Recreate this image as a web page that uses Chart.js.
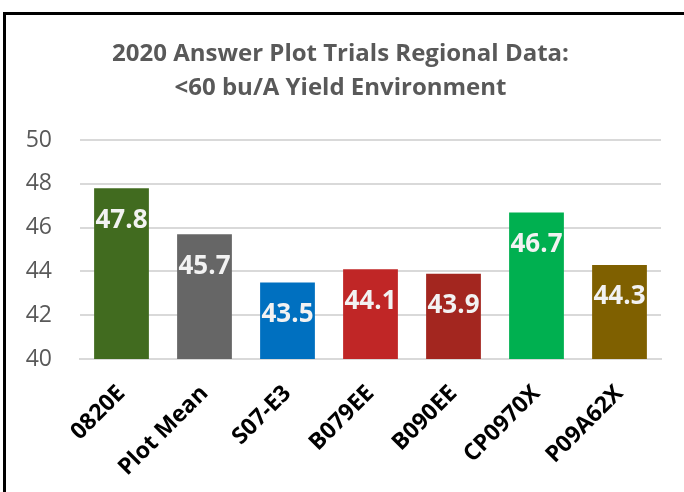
<!DOCTYPE html>
<html>
<head>
<meta charset="utf-8">
<script src="https://cdn.jsdelivr.net/npm/chart.js@4/dist/chart.umd.min.js"></script>
<style>
  html, body { margin: 0; padding: 0; background: #fff; overflow: hidden; width: 684px; height: 492px; }
  #frame { position: absolute; left: 3px; top: 12px; width: 800px; height: 600px; border: 3px solid #000; box-sizing: border-box; }
  #wrap { position: absolute; left: 0; top: 0; width: 684px; height: 492px; }
</style>
</head>
<body>
<div id="frame"></div>
<div id="wrap"><canvas id="c" width="684" height="492"></canvas></div>
<script>
const categories = ["0820E", "Plot Mean", "S07-E3", "B079EE", "B090EE", "CP0970X", "P09A62X"];
const yieldValues = [47.8, 45.7, 43.5, 44.1, 43.9, 46.7, 44.3];
const barColors = ["#416B1F", "#666666", "#0070C0", "#C02626", "#A3261F", "#00B050", "#7F6000"];
const titleLines = ["2020 Answer Plot Trials Regional Data:", "<60 bu/A Yield Environment"];
const yMin = 40, yMax = 50, yStep = 2;

const valueLabels = {
  id: 'valueLabels',
  afterDatasetsDraw(chart) {
    const ctx = chart.ctx;
    const meta = chart.getDatasetMeta(0);
    ctx.save();
    ctx.font = 'bold 26px "Open Sans"';
    ctx.fillStyle = '#F2F2F2';
    ctx.textAlign = 'center';
    ctx.textBaseline = 'middle';
    meta.data.forEach((bar, i) => {
      ctx.fillText(yieldValues[i].toFixed(1), bar.x, bar.y + 32);
    });
    ctx.restore();
  }
};

new Chart(document.getElementById('c'), {
  type: 'bar',
  data: {
    labels: categories,
    datasets: [{
      data: yieldValues,
      backgroundColor: barColors,
      borderWidth: 0,
      barPercentage: 0.66,
      categoryPercentage: 1.0
    }]
  },
  options: {
    responsive: false,
    animation: false,
    layout: { padding: { left: 20, right: 23, top: 0, bottom: 0 } },
    plugins: {
      legend: { display: false },
      tooltip: { enabled: false },
      title: {
        display: true,
        text: titleLines,
        color: '#595959',
        font: { family: '"Open Sans"', size: 24, weight: 'bold', lineHeight: 1.42 },
        padding: { top: 37, bottom: 35 }
      }
    },
    scales: {
      y: {
        min: yMin, max: yMax,
        ticks: { stepSize: yStep, color: '#595959', font: { family: '"Open Sans"', size: 23 }, padding: 28 },
        grid: { color: '#D9D9D9', lineWidth: 2, drawTicks: false },
        border: { display: false },
        afterFit(scale) { scale.width = 60; }
      },
      x: {
        ticks: { color: '#000', font: { family: '"Open Sans"', size: 23, weight: 'bold' }, minRotation: 45, maxRotation: 45, padding: 21 },
        grid: { display: false, drawTicks: false },
        border: { display: true, color: '#D9D9D9', width: 2 },
        afterFit(scale) { scale.height = 133; }
      }
    }
  },
  plugins: [valueLabels]
});
</script>
</body>
</html>
